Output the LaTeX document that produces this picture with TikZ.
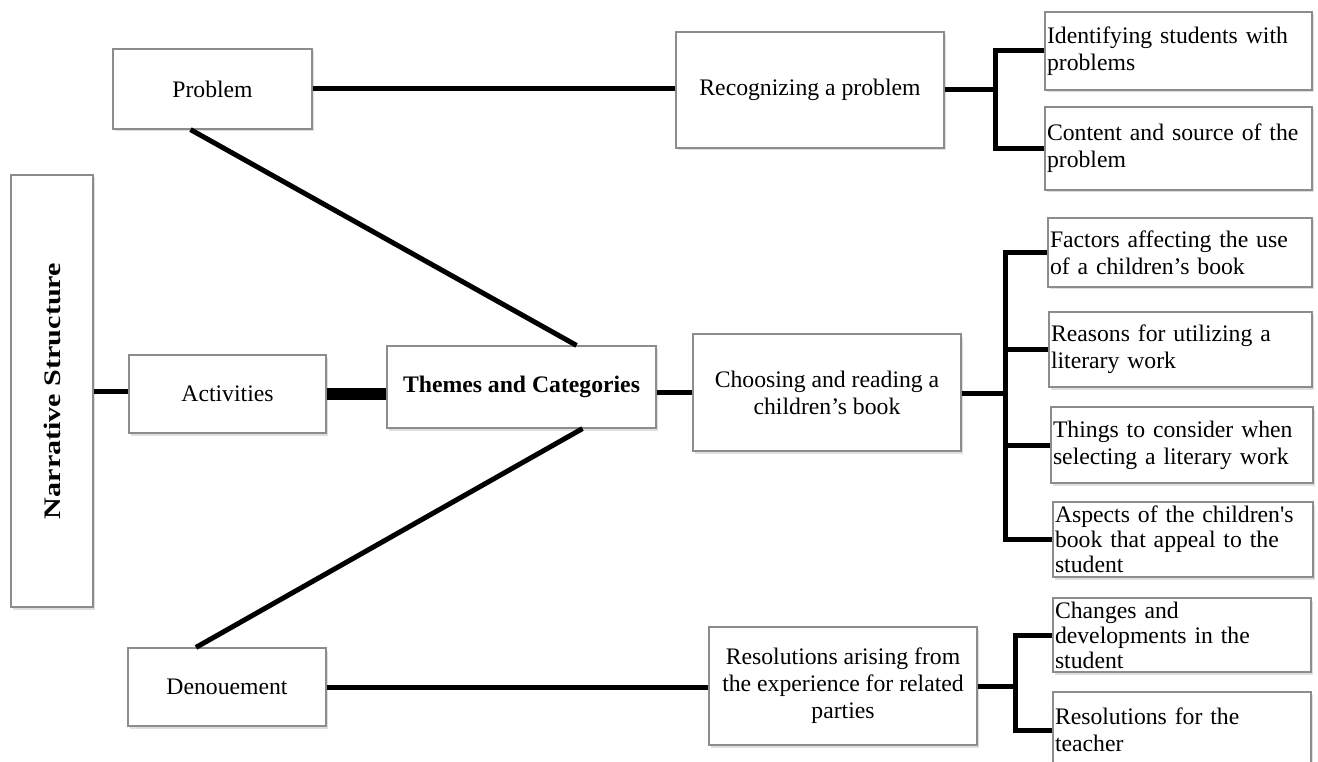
\documentclass[tikz,border=0pt]{standalone}
\usepackage{fontspec}
\usepackage{graphicx}
\setmainfont{Liberation Serif}[Ligatures=TeXOff]
\usetikzlibrary{shadows,calc}
\begin{document}
\begin{tikzpicture}[x=1pt,y=-1pt,
  box/.style={draw=black!45, line width=1.2pt, fill=white, inner sep=2pt,
    drop shadow={shadow xshift=1.5pt, shadow yshift=-2.5pt, opacity=0.25},
    font=\fontsize{23.7}{27}\selectfont},
  cbox/.style={box, align=center},
  rbox/.style={box, align=left, text width=#1},
  conn/.style={line width=5pt, draw=black},
  thickconn/.style={line width=12pt, draw=black}
]
\useasboundingbox (0,0) rectangle (1318,762);

% left column
\node[box, rotate=90, minimum width=432, minimum height=82] (ns) at (52,391)
  {\scalebox{1.27}[1]{\bfseries Narrative Structure}};
\node[cbox, minimum width=199, minimum height=80] (prob) at (212.5,89) {Problem};
\node[cbox, minimum width=197, minimum height=78] (act) at (227.5,394) {Activities};
\node[cbox, minimum width=198, minimum height=78] (den) at (227,687) {Denouement};

% centre
\node[cbox, minimum width=269, minimum height=82, font=\fontsize{23.7}{27}\selectfont\bfseries] (themes) at (521.5,387) {Themes and Categories};

% themes column
\node[cbox, minimum width=268, minimum height=116] (rec) at (810,90) {Recognizing a problem};
\node[cbox, minimum width=268, minimum height=117] (cho) at (827,392.5) {Choosing and reading a\\children’s book};
\node[cbox, minimum width=268, minimum height=118] (res) at (843,686) {Resolutions arising from\\the experience for related\\parties};

% categories
\node[rbox=263, minimum height=78] (ident) at (1178.5,51) {Identifying students with\\problems};
\node[rbox=263, minimum height=83] (cont) at (1178.5,148.5) {Content and source of the\\problem};
\node[rbox=260, minimum height=69] (fac) at (1180,252.5) {Factors affecting the use\\of a children’s book};
\node[rbox=259, minimum height=75] (rea) at (1180.5,349.5) {Reasons for utilizing a\\literary work};
\node[rbox=258, minimum height=76] (thi) at (1182,445) {Things to consider when\\selecting a literary work};
\node[rbox=256, minimum height=75, font=\fontsize{23.7}{25}\selectfont] (asp) at (1183,539.5) {Aspects of the children's\\book that appeal to the\\student};
\node[rbox=254, minimum height=74, font=\fontsize{23.7}{25}\selectfont] (chg) at (1182,635) {Changes and\\developments in the\\student};
\node[rbox=254, minimum height=76] (tea) at (1182,730) {Resolutions for the\\teacher};

% bracket junctions
\coordinate (j1) at (995,90);
\coordinate (j2) at (1005,393);
\coordinate (j3) at (1015,686);

% connectors
\draw[conn] (ns.south) -- (act.west |- ns.south);
\draw[thickconn] (act.east) -- (themes.west |- act.east);
\draw[conn] ([xshift=-22pt]prob.south) -- ([xshift=55pt]themes.north);
\draw[conn] ([xshift=-31pt]den.north) -- ([xshift=61pt]themes.south);
\draw[conn] (prob.east) -- (rec.west |- prob.east);
\draw[conn] (themes.east |- cho.west) -- (cho.west);
\draw[conn] (den.east) -- (res.west |- den.east);

\draw[conn] (rec.east) -- (j1);
\draw[conn] (j1) |- (ident.west);
\draw[conn] (j1) |- (cont.west);

\draw[conn] (cho.east |- j2) -- (j2);
\draw[conn] (j2) |- (fac.west);
\draw[conn] (j2) |- (rea.west);
\draw[conn] (j2) |- (thi.west);
\draw[conn] (j2) |- (asp.west);

\draw[conn] (res.east) -- (j3);
\draw[conn] (j3) |- (chg.west);
\draw[conn] (j3) |- (tea.west);
\end{tikzpicture}
\end{document}
